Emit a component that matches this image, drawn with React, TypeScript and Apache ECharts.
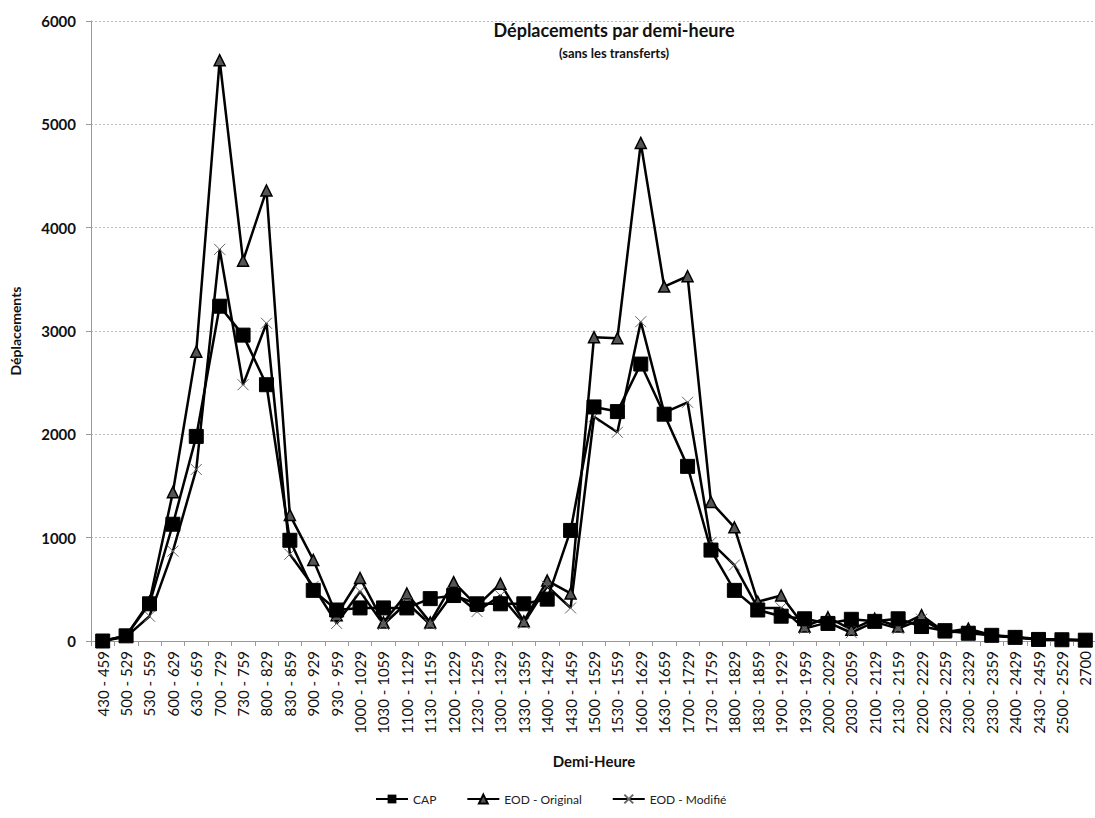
import React, { useEffect, useRef } from "react";
import * as echarts from "echarts";

const categories = [
  "430 - 459", "500 - 529", "530 - 559", "600 - 629", "630 - 659", "700 - 729", "730 - 759",
  "800 - 829", "830 - 859", "900 - 929", "930 - 959", "1000 - 1029", "1030 - 1059", "1100 - 1129",
  "1130 - 1159", "1200 - 1229", "1230 - 1259", "1300 - 1329", "1330 - 1359", "1400 - 1429",
  "1430 - 1459", "1500 - 1529", "1530 - 1559", "1600 - 1629", "1630 - 1659", "1700 - 1729",
  "1730 - 1759", "1800 - 1829", "1830 - 1859", "1900 - 1929", "1930 - 1959", "2000 - 2029",
  "2030 - 2059", "2100 - 2129", "2130 - 2159", "2200 - 2229", "2230 - 2259", "2300 - 2329",
  "2330 - 2359", "2400 - 2429", "2430 - 2459", "2500 - 2529", "2700",
];

const cap = [
  0, 50, 360, 1130, 1980, 3240, 2960, 2480, 975, 490, 300, 320, 320, 320, 410, 440, 360, 360, 360,
  405, 1070, 2265, 2220, 2680, 2195, 1690, 880, 490, 300, 240, 215, 170, 210, 190, 215, 140, 100,
  75, 55, 35, 15, 12, 8,
];

const eodOriginal = [
  0, 50, 380, 1440, 2800, 5620, 3680, 4360, 1220, 785, 250, 610, 180, 460, 180, 570, 340, 555,
  190, 585, 460, 2940, 2930, 4820, 3430, 3530, 1345, 1100, 380, 440, 140, 230, 110, 215, 140,
  250, 85, 120, 55, 40, 20, 15, 8,
];

const eodModifie = [
  0, 40, 240, 870, 1660, 3790, 2480, 3075, 840, 530, 170, 480, 160, 370, 160, 470, 285, 440,
  170, 530, 320, 2170, 2020, 3090, 2210, 2310, 955, 735, 320, 320, 120, 180, 80, 185, 120, 210,
  85, 95, 50, 35, 15, 12, 8,
];

const yTicks = [0, 1000, 2000, 3000, 4000, 5000, 6000];

const FONT = "Lato, 'Open Sans', sans-serif";

export default function App() {
  const ref = useRef<HTMLDivElement>(null);

  useEffect(() => {
    if (!ref.current) return;
    const chart = echarts.init(ref.current, undefined, { renderer: "svg" });
    const crossPath = "path://M0,0L10,10M10,0L0,10";
    chart.setOption({
      animation: false,
      backgroundColor: "#ffffff",
      textStyle: { fontFamily: FONT },
      title: {
        text: "Déplacements par demi-heure",
        subtext: "(sans les transferts)",
        left: 609,
        top: 16,
        textAlign: "center",
        itemGap: 7,
        textStyle: { fontFamily: FONT, fontSize: 18, fontWeight: "bold", color: "#111" },
        subtextStyle: { fontFamily: FONT, fontSize: 13, fontWeight: "bold", color: "#111" },
      },
      legend: {
        bottom: 8,
        left: 370,
        itemWidth: 32,
        itemHeight: 11,
        itemGap: 30,
        textStyle: { fontFamily: FONT, fontSize: 12, color: "#222" },
        data: ["CAP", "EOD - Original", "EOD - Modifié"],
      },
      grid: { left: 87, right: 0, top: 21, bottom: 177, containLabel: false },
      xAxis: {
        type: "category",
        data: categories,
        boundaryGap: true,
        name: "Demi-Heure",
        nameLocation: "middle",
        nameGap: 112,
        nameTextStyle: { fontFamily: FONT, fontSize: 15, fontWeight: "bold", color: "#111" },
        axisLine: { lineStyle: { color: "#999", width: 1 } },
        axisTick: { show: true, alignWithLabel: false, length: 5, lineStyle: { color: "#999" } },
        axisLabel: {
          rotate: 90,
          interval: 0,
          fontFamily: FONT,
          fontSize: 15,
          color: "#111",
          margin: 10,
        },
        splitLine: { show: false },
      },
      yAxis: {
        type: "value",
        min: 0,
        max: 6000,
        interval: 1000,
        name: "Déplacements",
        nameLocation: "middle",
        nameGap: 69,
        nameRotate: 90,
        nameTextStyle: { fontFamily: FONT, fontSize: 14, fontWeight: "bold", color: "#111" },
        axisLine: { show: true, lineStyle: { color: "#999", width: 1 } },
        axisTick: { show: true, length: 5, lineStyle: { color: "#999" } },
        axisLabel: {
          fontFamily: FONT,
          fontSize: 15,
          fontWeight: "bold",
          color: "#111",
          margin: 15,
          formatter: (v: number) => (yTicks.includes(v) ? String(v) : ""),
        },
        splitLine: { show: true, lineStyle: { color: "#bbb", type: [2, 2], width: 1 } },
      },
      series: [
        {
          name: "CAP",
          type: "line",
          data: cap,
          symbol: "rect",
          symbolSize: 14,
          z: 3,
          lineStyle: { color: "#000", width: 2.5 },
          itemStyle: { color: "#000", borderColor: "#000" },
        },
        {
          name: "EOD - Original",
          type: "line",
          data: eodOriginal,
          symbol: "triangle",
          symbolSize: 11,
          z: 2,
          lineStyle: { color: "#000", width: 2.5 },
          itemStyle: { color: "#555", borderColor: "#000", borderWidth: 1.5 },
        },
        {
          name: "EOD - Modifié",
          type: "line",
          data: eodModifie,
          symbol: crossPath,
          symbolSize: 11,
          z: 2,
          lineStyle: { color: "#000", width: 2.5 },
          itemStyle: { color: "#666", borderColor: "#666", borderWidth: 1 },
        },
      ],
    });
    return () => chart.dispose();
  }, []);

  return (
    <div style={{ position: "fixed", left: 0, top: 0, width: 1095, height: 818, overflow: "hidden" }}>
      <div ref={ref} style={{ position: "absolute", left: 0, top: 0, width: 1097, height: 818 }} />
    </div>
  );
}
